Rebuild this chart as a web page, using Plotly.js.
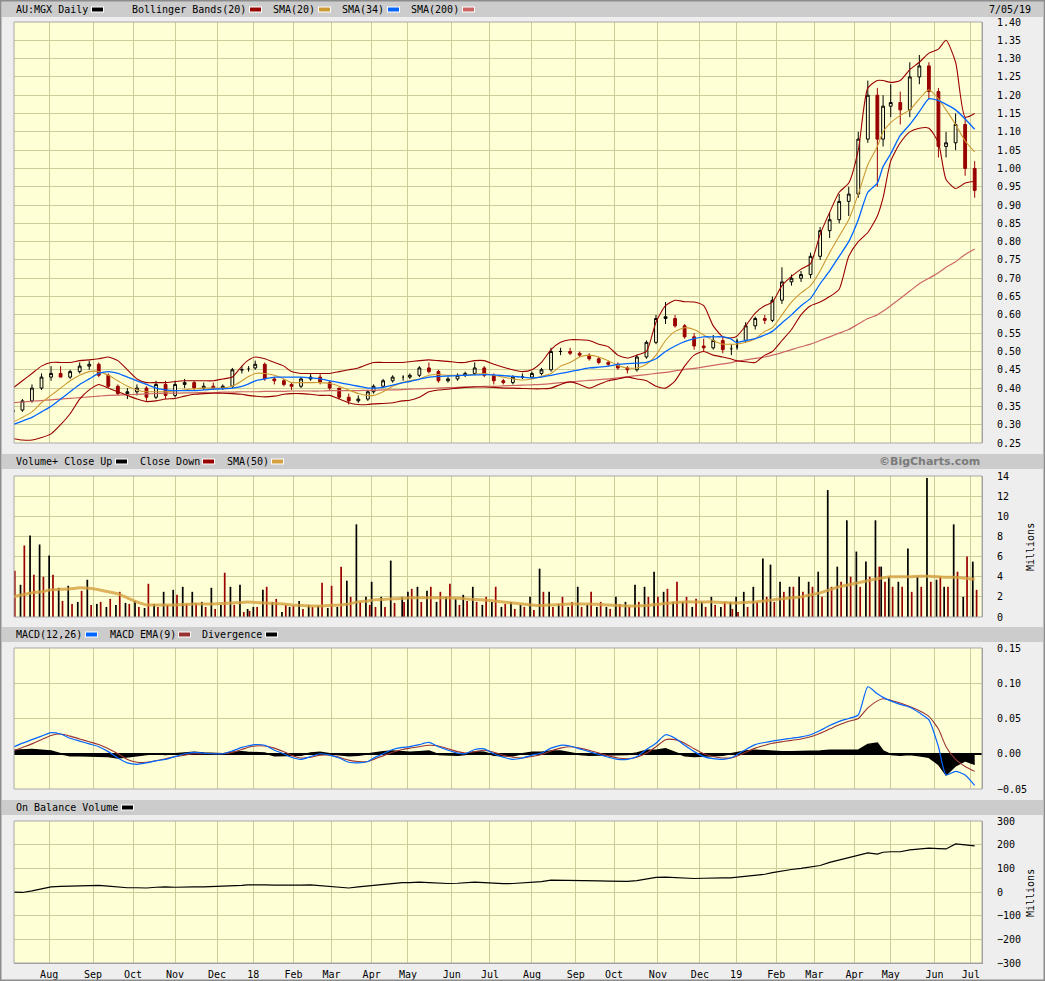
<!DOCTYPE html>
<html>
<head>
<meta charset="utf-8">
<script src="https://cdn.plot.ly/plotly-3.0.1.min.js"></script>
<style>html,body{margin:0;padding:0;background:#EEEEEE;}#chart{width:1045px;height:981px;}</style>
</head>
<body>
<div id="chart"></div>
<script>
// ---------- DATA (weekly samples) ----------
const dates = ['2017-07-05','2017-07-12','2017-07-19','2017-07-26','2017-08-02','2017-08-09','2017-08-16','2017-08-23','2017-08-30','2017-09-06','2017-09-13','2017-09-20','2017-09-27','2017-10-04','2017-10-11','2017-10-18','2017-10-25','2017-11-01','2017-11-08','2017-11-15','2017-11-22','2017-11-29','2017-12-06','2017-12-13','2017-12-20','2017-12-27',
'2018-01-03','2018-01-10','2018-01-17','2018-01-24','2018-01-31','2018-02-07','2018-02-14','2018-02-21','2018-02-28','2018-03-07','2018-03-14','2018-03-21','2018-03-28','2018-04-04','2018-04-11','2018-04-18','2018-04-26','2018-05-02','2018-05-09','2018-05-16','2018-05-23','2018-05-30','2018-06-06','2018-06-13','2018-06-20','2018-06-27','2018-07-04','2018-07-11','2018-07-18','2018-07-25','2018-08-01','2018-08-08','2018-08-15','2018-08-22','2018-08-29','2018-09-05','2018-09-12','2018-09-19','2018-09-26','2018-10-03','2018-10-10','2018-10-17','2018-10-24','2018-10-31','2018-11-07','2018-11-14','2018-11-21','2018-11-28','2018-12-05','2018-12-12','2018-12-19','2018-12-27',
'2019-01-02','2019-01-09','2019-01-16','2019-01-23','2019-01-30','2019-02-06','2019-02-13','2019-02-20','2019-02-27','2019-03-06','2019-03-13','2019-03-20','2019-03-27','2019-04-03','2019-04-10','2019-04-17','2019-04-24','2019-05-01','2019-05-08','2019-05-15','2019-05-22','2019-05-29','2019-06-05','2019-06-12','2019-06-19','2019-06-26','2019-07-03'];

const openP = [.335,.34,.365,.40,.43,.44,.43,.445,.46,.465, .435,.405,.385,.39,.40,.375,.41,.38,.41,.415, .40,.405,.40,.405,.45,.45,.455,.465,.425,.42, .41,.405,.425,.43,.415,.40,.375,.365,.37,.39, .405,.42,.43,.43,.435,.455,.445,.42,.425,.435, .44,.455,.435,.42,.415,.43,.43,.44,.45,.50, .50,.495,.49,.48,.47,.465,.455,.45,.485,.525, .59,.59,.57,.54,.515,.51,.53,.505,.51,.53, .57,.59,.585,.64,.69,.70,.71,.76,.83,.86, .91,.93,1.08,1.20,1.08,1.17,1.18,1.16,1.25,1.28, 1.21,1.06,1.07,1.12,1.00];
const highP = [.345,.37,.41,.44,.46,.46,.45,.47,.475,.47, .44,.41,.40,.41,.405,.42,.42,.42,.425,.42, .415,.415,.41,.455,.46,.46,.475,.47,.43,.425, .415,.43,.44,.44,.42,.40,.385,.38,.395,.41, .425,.435,.435,.44,.46,.47,.45,.43,.44,.445, .47,.46,.44,.425,.435,.44,.445,.455,.51,.51, .51,.50,.495,.485,.475,.47,.46,.49,.53,.60, .635,.60,.575,.55,.535,.545,.54,.52,.535,.58, .595,.60,.65,.73,.71,.72,.77,.84,.88,.93, .95,1.10,1.24,1.22,1.20,1.23,1.21,1.29,1.31,1.29, 1.22,1.10,1.15,1.14,1.02];
const lowP = [.33,.335,.36,.395,.42,.43,.425,.44,.45,.43, .40,.38,.37,.38,.365,.37,.37,.375,.40,.395, .395,.395,.395,.40,.44,.445,.45,.42,.41,.405, .395,.40,.42,.41,.395,.37,.355,.36,.365,.385, .40,.415,.42,.425,.43,.44,.415,.415,.42,.43, .435,.43,.41,.41,.41,.425,.425,.435,.445,.49, .49,.485,.475,.465,.46,.45,.44,.445,.48,.52, .575,.565,.535,.505,.50,.505,.495,.49,.505,.525, .56,.575,.58,.63,.68,.69,.70,.75,.81,.85, .87,.92,1.07,.95,1.06,1.14,1.12,1.14,1.23,1.19, 1.03,1.03,1.05,.98,.92];
const closeP = [.34,.365,.40,.43,.44,.43,.445,.46,.465,.435, .405,.385,.39,.40,.375,.41,.38,.41,.415,.40, .405,.40,.405,.45,.45,.455,.465,.425,.42,.41, .405,.425,.43,.415,.40,.375,.365,.37,.39,.405, .42,.43,.43,.435,.455,.445,.42,.425,.435,.44, .455,.435,.42,.415,.43,.43,.44,.45,.50,.50, .495,.49,.48,.47,.465,.455,.45,.485,.525,.59, .595,.57,.54,.515,.51,.53,.505,.51,.53,.57, .59,.585,.64,.69,.70,.71,.76,.83,.86,.91, .93,1.08,1.20,1.08,1.17,1.18,1.16,1.25,1.28,1.21, 1.06,1.07,1.12,1.00,.94];

const bbUpper = [.40,.42,.44,.46,.47,.47,.47,.475,.477,.48, .485,.475,.45,.425,.415,.415,.415,.418,.42,.42, .42,.42,.425,.43,.46,.475,.485,.48,.47,.46, .445,.44,.44,.44,.44,.445,.45,.455,.465,.47, .47,.47,.47,.472,.475,.477,.475,.473,.47,.47, .475,.475,.465,.457,.45,.445,.45,.47,.505,.525, .532,.532,.53,.52,.513,.49,.482,.49,.50,.58, .625,.64,.636,.635,.625,.57,.54,.537,.54,.57, .605,.625,.635,.68,.705,.725,.74,.82,.88,.935, .96,1.05,1.22,1.24,1.24,1.235,1.24,1.27,1.29,1.315, 1.326,1.35,1.29,1.14,1.15];
const bbLower = [.262,.258,.258,.265,.275,.30,.33,.37,.395,.41, .40,.39,.38,.37,.363,.365,.37,.372,.378,.383, .385,.386,.386,.385,.383,.38,.378,.376,.378,.383, .385,.385,.383,.38,.38,.37,.36,.355,.355,.357, .358,.36,.365,.367,.375,.39,.395,.397,.40,.402, .403,.403,.402,.40,.40,.399,.398,.398,.40,.41, .417,.41,.40,.41,.42,.425,.43,.425,.42,.405, .40,.42,.46,.49,.50,.49,.485,.48,.475,.472, .47,.49,.50,.53,.56,.60,.625,.635,.65,.67, .76,.80,.825,.87,.92,1.02,1.07,1.10,1.11,1.11, 1.07,.97,.945,.96,.965];
const sma20 = [.307,.32,.335,.36,.38,.40,.42,.435,.445,.445, .435,.42,.405,.395,.39,.39,.39,.392,.395,.398, .40,.40,.40,.405,.42,.43,.44,.44,.435,.425, .415,.415,.415,.415,.413,.405,.395,.385,.38,.38, .39,.405,.415,.42,.425,.435,.437,.435,.435,.435, .438,.44,.435,.43,.425,.422,.425,.432,.44,.46, .47,.485,.49,.485,.475,.462,.455,.455,.465,.49, .53,.555,.565,.56,.545,.53,.52,.52,.52,.525, .535,.555,.565,.60,.635,.66,.68,.72,.77,.815, .86,.93,1.01,1.06,1.10,1.125,1.145,1.16,1.19,1.215, 1.19,1.16,1.12,1.075,1.045];
const sma34 = [.30,.31,.32,.335,.35,.37,.39,.41,.425,.44, .445,.44,.43,.42,.41,.40,.395,.393,.393,.393, .395,.397,.398,.40,.405,.41,.42,.425,.43,.43, .43,.43,.428,.425,.42,.415,.41,.405,.40,.40, .402,.408,.414,.418,.424,.43,.432,.433,.434,.435, .436,.437,.436,.434,.432,.43,.428,.43,.435,.44, .445,.45,.455,.457,.46,.465,.467,.468,.47,.48, .50,.515,.527,.535,.54,.54,.54,.535,.525,.53, .535,.545,.555,.578,.60,.625,.645,.685,.72,.76, .80,.86,.935,.96,1.005,1.04,1.09,1.12,1.155,1.19, 1.185,1.175,1.16,1.135,1.107];
const sma200 = [.36,.362,.364,.366,.368,.37,.372,.374,.376,.378, .38,.381,.382,.383,.384,.385,.386,.386,.387,.387, .388,.388,.389,.389,.39,.39,.39,.391,.391,.391, .392,.392,.392,.392,.393,.393,.393,.393,.394,.394, .395,.395,.396,.397,.398,.399,.40,.401,.402,.403, .404,.405,.405,.406,.407,.408,.409,.41,.412,.415, .417,.419,.421,.423,.425,.428,.431,.434,.437,.44, .443,.447,.451,.454,.458,.462,.466,.469,.473,.477, .481,.485,.49,.497,.505,.513,.52,.53,.54,.55, .56,.575,.59,.60,.61,.625,.645,.665,.685,.70, .715,.73,.745,.765,.78];

// volume (millions): one close-up day and one close-down day per week
const volUp = [7.0,3.2,8.1,7.2,6.1,2.9,3.1,1.5,3.7,1.3, 1.0,1.2,1.4,1.6,0.9,1.3,2.5,2.7,3.0,2.5, 1.5,2.9,1.2,3.0,3.2,0.8,1.0,2.7,1.5,0.5, 1.0,1.6,1.2,1.1,0.9,1.0,3.6,9.2,2.0,3.5, 2.0,5.6,2.0,2.5,3.0,2.6,1.5,2.0,1.8,2.2, 3.0,1.2,1.5,1.0,1.5,1.2,2.0,4.8,2.5,1.3, 1.0,3.0,1.2,1.0,1.0,2.0,1.5,3.2,3.0,4.5, 2.5,1.5,1.5,1.0,1.5,2.0,1.0,1.5,2.0,2.5, 3.0,5.8,5.2,3.5,3.0,4.0,3.5,4.5,12.6,5.0, 9.6,6.5,5.5,9.6,5.0,4.0,3.5,6.8,4.0,13.8, 3.7,3.0,9.2,2.0,5.5];
const volDown = [4.6,7.1,4.2,4.0,4.2,1.6,1.3,2.6,1.2,1.5, 1.8,2.5,1.3,1.0,3.3,1.0,1.2,2.2,1.3,1.4, 1.0,0.8,4.4,1.2,0.5,0.6,1.0,3.0,1.8,1.2, 1.1,0.8,1.0,3.4,3.1,5.0,2.0,1.5,1.2,1.0, 1.0,1.4,1.5,2.8,1.5,3.0,2.5,3.3,1.2,1.6, 1.5,2.0,3.0,1.3,0.8,1.0,0.7,2.5,1.0,2.0, 1.5,1.0,2.5,1.5,0.8,1.3,1.0,1.5,2.0,2.0, 2.8,3.5,2.0,1.8,1.0,1.2,1.5,0.8,0.5,1.0, 1.5,2.0,1.5,2.5,3.0,2.5,3.0,2.0,3.0,3.5, 4.0,3.0,4.0,5.0,3.5,3.0,3.0,2.5,3.0,3.5, 4.0,3.0,4.5,6.0,2.7];
const volSma50 = [2.0,2.2,2.4,2.5,2.7,2.75,2.8,2.9,2.85,2.7, 2.5,2.3,1.9,1.5,1.2,1.2,1.2,1.2,1.25,1.3, 1.3,1.3,1.35,1.4,1.45,1.5,1.45,1.4,1.35,1.3, 1.2,1.15,1.1,1.1,1.15,1.2,1.3,1.5,1.6,1.7, 1.75,1.8,1.85,1.9,1.9,1.9,1.9,1.9,1.85,1.8, 1.75,1.7,1.6,1.5,1.4,1.3,1.2,1.15,1.2,1.25, 1.3,1.3,1.3,1.25,1.2,1.15,1.1,1.1,1.15,1.25, 1.35,1.45,1.5,1.5,1.5,1.5,1.45,1.4,1.4,1.45, 1.5,1.6,1.7,1.8,1.9,2.0,2.2,2.4,2.7,3.0, 3.2,3.4,3.6,3.8,3.9,4.0,4.0,4.0,4.05,4.05, 4.0,3.95,3.95,3.85,3.75];

const macdLine = [.009,.015,.02,.025,.03,.028,.022,.018,.014,.01, .003,-.006,-.013,-.015,-.013,-.01,-.008,-.004,.0,.002, .001,.0,.0,.004,.009,.011,.013,.012,.005,.0, -.005,-.008,-.004,.0,-.002,-.006,-.012,-.013,-.011,-.006, .0,.006,.009,.01,.013,.016,.01,.005,.001,.0, .006,.007,.0,-.005,-.008,-.006,-.002,.001,.008,.012, .011,.007,.003,-.001,-.005,-.008,-.008,-.004,.006,.015, .027,.022,.012,.003,-.004,-.007,-.008,-.006,-.002,.006, .013,.016,.018,.02,.022,.024,.027,.033,.04,.046, .05,.055,.095,.085,.08,.075,.07,.066,.058,.048, .01,-.03,-.025,-.03,-.045];
const macdSignal = [.004,.009,.014,.02,.026,.028,.025,.021,.017,.013, .007,.0,-.008,-.012,-.012,-.01,-.007,-.004,-.002,.0, .0,.0,.0,.002,.006,.009,.011,.011,.008,.003, -.002,-.006,-.005,-.002,-.002,-.005,-.009,-.011,-.011,-.008, -.003,.002,.006,.008,.01,.012,.011,.007,.003,.001, .003,.005,.002,-.002,-.005,-.006,-.004,-.001,.004,.008, .01,.008,.005,.001,-.003,-.006,-.007,-.005,.001,.01, .02,.02,.015,.007,.0,-.004,-.006,-.006,-.004,.002, .008,.012,.015,.017,.019,.021,.024,.029,.035,.041, .046,.05,.065,.075,.078,.076,.072,.067,.061,.053, .035,.01,-.008,-.018,-.025];
const divergence = [.005,.006,.006,.005,.004,.0,-.003,-.003,-.003,-.003, -.004,-.006,-.005,-.003,-.001,.0,-.001,.0,.002,.002, .001,.0,.0,.002,.003,.002,.002,.001,-.003,-.003, -.003,-.002,.001,.002,.0,-.001,-.003,-.002,.0,.002, .003,.004,.003,.002,.003,.004,-.001,-.002,-.002,-.001, .003,.002,-.002,-.003,-.003,.0,.002,.002,.004,.004, .001,-.001,-.002,-.002,-.002,-.002,-.001,.001,.005,.005, .007,.002,-.003,-.004,-.004,-.003,-.002,.0,.002,.004, .005,.004,.003,.003,.003,.003,.003,.004,.005,.005, .004,.005,.013,.015,.004,-.001,-.002,-.001,-.003,-.005, -.015,-.03,-.017,-.01,-.015];

const obv = [0,-2,5,15,22,24,25,28,30,28, 25,20,18,18,17,20,22,20,22,22, 22,23,24,26,28,30,31,30,29,28, 27,29,30,27,22,18,17,22,26,30, 33,38,40,40,42,40,37,36,37,38, 42,40,36,35,36,38,40,44,50,50, 49,50,48,47,46,45,45,48,55,62, 63,60,58,57,58,60,60,60,62,66, 70,75,82,90,95,100,105,112,125,135, 145,155,165,160,168,170,170,178,182,185, 183,182,203,198,195];

// first trading day of each month (gridlines / labels)
const monthTicks = ['2017-08-01','2017-09-01','2017-10-02','2017-11-01','2017-12-01','2018-01-02','2018-02-01','2018-03-01','2018-04-03','2018-05-01','2018-06-01','2018-07-02','2018-08-01','2018-09-03','2018-10-01','2018-11-01','2018-12-03','2019-01-02','2019-02-01','2019-03-01','2019-04-01','2019-05-01','2019-06-03','2019-07-01'];
const monthLabels = ['Aug','Sep','Oct','Nov','Dec','18','Feb','Mar','Apr','May','Jun','Jul','Aug','Sep','Oct','Nov','Dec','19','Feb','Mar','Apr','May','Jun','Jul'];
const holidays = ['2017-12-25','2017-12-26','2018-01-01','2018-01-26','2018-03-30','2018-04-02','2018-04-25','2018-06-11','2018-12-25','2018-12-26','2019-01-01','2019-01-28','2019-04-19','2019-04-22','2019-04-25','2019-06-10'];

// ---------- helpers ----------
function tradingShift(s, n) {
  const d = new Date(s + 'T00:00:00Z');
  d.setUTCDate(d.getUTCDate() + n);
  for (;;) {
    const dow = d.getUTCDay();
    const iso = d.toISOString().slice(0, 10);
    if (dow === 0 || dow === 6 || holidays.indexOf(iso) >= 0) { d.setUTCDate(d.getUTCDate() + 1); continue; }
    return iso;
  }
}
const W = 1045, H = 981;
const px = x => x / W;
const py = y => 1 - y / H;

const MONO = 'DejaVu Sans Mono, monospace';
const BG = '#FFFFD6';
const GRID = '#CDCD9C';

// ---------- traces ----------
const traces = [];
const lineT = (y, color, width, yaxis) => ({type:'scatter', mode:'lines', x: dates, y: y, xaxis:'x', yaxis: yaxis,
  line:{color: color, width: width, shape:'spline', smoothing:0.6}, hoverinfo:'skip'});

traces.push(lineT(sma200, '#CC6666', 1.2, 'y'));
traces.push(lineT(bbUpper, '#990000', 1.1, 'y'));
traces.push(lineT(bbLower, '#990000', 1.1, 'y'));
traces.push(lineT(sma20, '#CC9933', 1.1, 'y'));
traces.push(lineT(sma34, '#0066FF', 1.3, 'y'));
traces.push({type:'candlestick', x: dates, open: openP, high: highP, low: lowP, close: closeP, xaxis:'x', yaxis:'y',
  increasing:{line:{color:'#000000', width:1}, fillcolor: BG},
  decreasing:{line:{color:'#990000', width:1}, fillcolor:'#990000'},
  whiskerwidth:0, hoverinfo:'skip'});

const dayMs = 86400000;
traces.push({type:'bar', x: dates.map(d => tradingShift(d, -1)), y: volUp, xaxis:'x', yaxis:'y2',
  marker:{color:'#000000', line:{width:0}}, width: 0.9*dayMs, hoverinfo:'skip'});
traces.push({type:'bar', x: dates.map(d => tradingShift(d, 1)), y: volDown, xaxis:'x', yaxis:'y2',
  marker:{color:'#990000', line:{width:0}}, width: 0.9*dayMs, hoverinfo:'skip'});
traces.push({type:'scatter', mode:'lines', x: dates, y: volSma50, xaxis:'x', yaxis:'y2',
  line:{color:'rgba(212,160,64,0.8)', width:3, shape:'spline', smoothing:0.6}, hoverinfo:'skip'});

traces.push({type:'scatter', mode:'lines', x: dates, y: divergence, xaxis:'x', yaxis:'y3', fill:'tozeroy',
  fillcolor:'#000000', line:{color:'#000000', width:1.5}, hoverinfo:'skip'});
traces.push(lineT(macdSignal, '#993333', 1.1, 'y3'));
traces.push(lineT(macdLine, '#0066FF', 1.2, 'y3'));

traces.push({type:'scatter', mode:'lines', x: dates, y: obv, xaxis:'x', yaxis:'y4',
  line:{color:'#000000', width:1.2}, hoverinfo:'skip'});

// ---------- layout ----------
const yCommon = (dom, range, dtick, fmt) => ({domain: dom, range: range, dtick: dtick, tick0: range[0], tickformat: fmt,
  side:'right', anchor:'x', showgrid:true, gridcolor: GRID, gridwidth:1, zeroline:false,
  ticks:'', ticklabelstandoff: 12, tickfont:{family: MONO, size: 10, color:'#000'},
  showline:true, linecolor:'#9A9A9A', linewidth:1, fixedrange:true});

const dPrice = [py(443), py(22)], dVol = [py(617), py(476)], dMacd = [py(789), py(648)], dObv = [py(963), py(821)];
const xDom = [px(14), px(982)];

const layout = {
  width: W, height: H, margin:{l:0, r:0, t:0, b:0},
  paper_bgcolor:'#EEEEEE', plot_bgcolor: BG, showlegend:false, hovermode:false,
  boxgap: 0.65, boxgroupgap: 0.3, barmode:'overlay',
  xaxis:{domain: xDom, anchor:'y4', type:'date', range:['2017-07-05 14:00','2019-07-08 20:00'],
    rangebreaks:[{bounds:['sat','mon']}, {values: holidays}],
    tickmode:'array', tickvals: monthTicks, ticktext: monthLabels,
    showgrid:true, gridcolor: GRID, gridwidth:1, ticks:'', ticklabelstandoff: 2,
    tickfont:{family: MONO, size:10, color:'#000'}, showline:true, linecolor:'#9A9A9A', linewidth:1,
    rangeslider:{visible:false}, fixedrange:true},
  yaxis: yCommon(dPrice, [0.25, 1.40], 0.05, '.2f'),
  yaxis2: yCommon(dVol, [0, 14], 2, 'd'),
  yaxis3: Object.assign(yCommon(dMacd, [-0.05, 0.15], 0.05, '.2f'), {zeroline:true, zerolinecolor:'#000', zerolinewidth:1.5}),
  yaxis4: yCommon(dObv, [-300, 300], 100, 'd'),
  shapes: [], annotations: []
};

// header bands
const bands = [[1,17],[454,469],[627,642],[800,815]];
bands.forEach(b => layout.shapes.push({type:'rect', xref:'paper', yref:'paper', x0: px(2), x1: px(1043), y0: py(b[1]), y1: py(b[0]),
  fillcolor:'#CCCCCC', line:{width:0}, layer:'below'}));
// plot frames
[[22,443],[476,617],[648,789],[821,963]].forEach(f => layout.shapes.push({type:'rect', xref:'paper', yref:'paper',
  x0: px(14), x1: px(982), y0: py(f[1]), y1: py(f[0]), line:{color:'#A8A8A8', width:1}, fillcolor:'rgba(0,0,0,0)'}));
// outer frame
layout.shapes.push({type:'rect', xref:'paper', yref:'paper', x0:0, x1:1, y0:0, y1:1, line:{color:'#8C8C8C', width:3}, fillcolor:'rgba(0,0,0,0)'});

function label(text, x, y, opts) {
  layout.annotations.push(Object.assign({xref:'paper', yref:'paper', x: px(x), y: py(y), xanchor:'left', yanchor:'middle',
    showarrow:false, text: text, font:{family: MONO, size:10, color:'#000'}}, opts || {}));
}
function swatch(x0, x1, yc, color) {
  layout.shapes.push({type:'rect', xref:'paper', yref:'paper', x0: px(x0-1), x1: px(x1+1), y0: py(yc+3), y1: py(yc-3),
    fillcolor:'#FFFFFF', line:{width:0}});
  layout.shapes.push({type:'rect', xref:'paper', yref:'paper', x0: px(x0), x1: px(x1), y0: py(yc+2), y1: py(yc-2),
    fillcolor: color, line:{width:0}});
}
// header 1
label('AU:MGX Daily', 14, 9.5); swatch(92, 103, 9.5, '#000000');
label('Bollinger Bands(20)', 130, 9.5); swatch(250, 261, 9.5, '#990000');
label('SMA(20)', 271, 9.5); swatch(319, 330, 9.5, '#CC9933');
label('SMA(34)', 340, 9.5); swatch(388, 399, 9.5, '#0066FF');
label('SMA(200)', 409, 9.5); swatch(463, 474, 9.5, '#CC6666');
label('7/05/19', 1033, 9.5, {xanchor:'right'});
// header 2
label('Volume+ Close Up', 14, 461.5); swatch(116, 127, 461.5, '#000000');
label('Close Down', 138, 461.5); swatch(203, 214, 461.5, '#990000');
label('SMA(50)', 225, 461.5); swatch(272, 283, 461.5, '#D4A040');
label('©BigCharts.com', 982, 461.5, {xanchor:'right', font:{family:'DejaVu Sans, sans-serif', size:11, color:'#7A7A7A', weight:'bold'}});
// header 3
label('MACD(12,26)', 14, 634.5); swatch(86, 97, 634.5, '#0066FF');
label('MACD EMA(9)', 108, 634.5); swatch(179, 190, 634.5, '#993333');
label('Divergence', 200, 634.5); swatch(266, 277, 634.5, '#000000');
// header 4
label('On Balance Volume', 14, 807.5); swatch(122, 133, 807.5, '#000000');
// Millions
label('Millions', 1030, 547, {xanchor:'center', textangle:-90});
label('Millions', 1030, 893, {xanchor:'center', textangle:-90});

Plotly.newPlot('chart', traces, layout, {staticPlot:true, displayModeBar:false});
</script>
</body>
</html>
